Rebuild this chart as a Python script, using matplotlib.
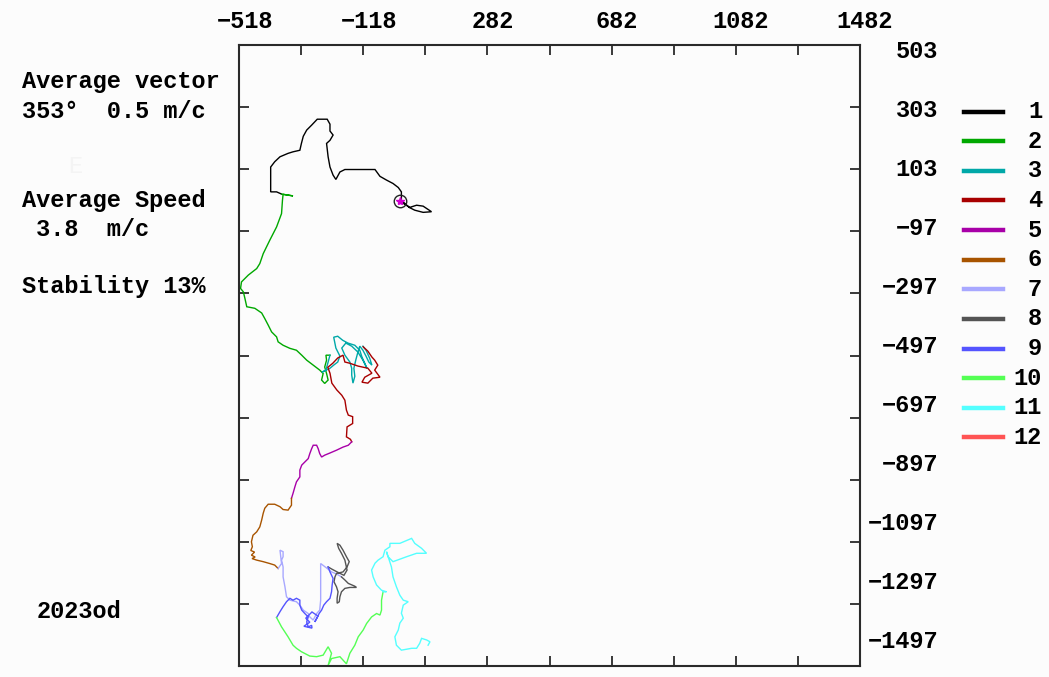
import matplotlib.pyplot as plt
from matplotlib.lines import Line2D

# ================= data (progressive vector, m) =================
T1_X = [0, 32, 54, 75, 102, 75, 48, 30, 5, 5, -5, -22, -43, -64, -80, -177, -193, -206, -215, -225,
        -231, -236, -225, -215, -225, -225, -234, -266, -284, -300, -311, -317, -322, -344, -360,
        -386, -403, -416, -416, -416, -397, -381]
T1_Y = [0, -20, -13, -16, -34, -36, -29, -20, 3, 30, 44, 57, 68, 80, 102, 102, 94, 70, 84, 110,
        143, 186, 196, 213, 226, 248, 264, 264, 245, 229, 209, 186, 164, 159, 154,
        143, 127, 110, 78, 30, 30, 23]

T2_X = [-381, -344, -376, -378, -381, -397, -419, -440, -451, -461, -488, -510, -513, -504, -499,
        -493, -467, -445, -435, -424, -413, -397, -392, -376, -354, -333, -316, -300, -279, -258,
        -247, -252, -242, -231, -236, -242, -236, -238, -225]
T2_Y = [23, 17, 22, 3, -40, -83, -126, -169, -201, -217, -238, -260, -281, -292, -313,
        -340, -345, -360, -378, -399, -421, -437, -453, -464, -474, -480, -496, -512, -528, -544,
        -555, -576, -587, -576, -555, -534, -512, -496, -496]

T3_X = [-225, -238, -251, -225, -213, -200, -193, -206, -213, -200, -184, -167, -145, -129, -122,
        -113, -106, -119, -135, -155, -174, -187, -177, -161, -155, -155, -151, -145, -148, -142,
        -135, -129, -119, -109, -100, -90, -97, -109, -119]
T3_Y = [-496, -544, -551, -538, -528, -518, -499, -473, -438, -435, -448, -457, -464, -480, -502,
        -522, -538, -512, -486, -467, -457, -473, -496, -518, -538, -560, -586, -564, -538, -512,
        -486, -467, -480, -499, -518, -528, -506, -480, -467]

T4_X = [-118, -103, -90, -81, -71, -81, -64, -87, -103, -122, -113, -90, -103, -135, -161, -177,
        -183, -200, -216, -232, -225, -219, -203, -187, -177, -172, -166, -152, -152, -170, -172,
        -159, -155]
T4_Y = [-469, -483, -502, -512, -528, -544, -567, -570, -586, -583, -567, -554, -538, -531, -522,
        -518, -496, -505, -522, -535, -554, -586, -608, -625, -641, -673, -689, -694, -716, -727,
        -759, -767, -775]

T5_X = [-155, -166, -183, -204, -225, -242, -252, -258, -263, -268, -279, -284, -290, -295, -306,
        -316, -322, -322, -333, -338, -344, -349]
T5_Y = [-775, -786, -792, -802, -811, -818, -824, -813, -797, -786, -786, -797, -813, -829, -840,
        -850, -866, -888, -904, -920, -941, -957]

T6_X = [-349, -349, -360, -376, -386, -403, -424, -435, -440, -445, -451, -461, -473, -478, -475,
        -480, -468, -478, -466, -476, -461, -440, -419, -403, -392]
T6_Y = [-957, -979, -995, -993, -984, -976, -976, -989, -1005, -1027, -1049, -1065, -1076, -1097,
        -1113, -1125, -1130, -1140, -1146, -1151, -1156, -1161, -1167, -1172, -1183]

T7_X = [-392, -381, -386, -376, -376, -381, -376, -376, -370, -365, -354, -333, -322, -311, -295,
        -290, -279, -268, -258, -255, -255, -235, -220, -203, -188]
T7_Y = [-1183, -1167, -1124, -1129, -1145, -1156, -1178, -1210, -1242, -1274, -1285, -1290, -1301,
        -1317, -1328, -1339, -1349, -1328, -1317, -1285, -1167, -1182, -1194, -1201, -1210]

T8_X = [-188, -177, -166, -145, -140, -161, -177, -188, -193, -195, -202, -202, -199, -204, -212,
        -209, -204, -183, -170, -163, -172, -183, -193, -202, -197, -188, -177, -170, -180, -200,
        -219, -231]
T8_Y = [-1210, -1220, -1231, -1240, -1244, -1244, -1247, -1258, -1274, -1290, -1295, -1279, -1258,
        -1242, -1226, -1210, -1199, -1194, -1178, -1161, -1145, -1124, -1108, -1102, -1118, -1134,
        -1156, -1188, -1205, -1195, -1185, -1178]

T9_X = [-231, -225, -215, -218, -220, -225, -236, -245, -252, -260, -266, -274, -264, -283, -303,
        -290, -309, -283, -284, -295, -300, -295, -306, -316, -322, -322, -333, -344, -354, -365,
        -376, -386, -397]
T9_Y = [-1178, -1194, -1215, -1236, -1258, -1279, -1290, -1301, -1317, -1328, -1341, -1355, -1336,
        -1323, -1343, -1356, -1369, -1375, -1366, -1371, -1355, -1339, -1328, -1317, -1301, -1285,
        -1279, -1285, -1279, -1290, -1306, -1322, -1341]

T10_X = [-397, -381, -360, -344, -333, -317, -290, -268, -247, -231, -220, -231, -220, -193, -172,
         -161, -145, -134, -118, -107, -91, -75, -64, -59, -59, -54]
T10_Y = [-1341, -1371, -1403, -1430, -1440, -1451, -1465, -1467, -1462, -1435, -1456, -1495, -1473,
         -1467, -1490, -1456, -1430, -1403, -1381, -1360, -1339, -1328, -1333, -1317, -1285, -1258]

T11_X = [-54, -43, -59, -75, -86, -91, -80, -70, -54, -48, -32, -32, 0, 38, 48, 70, 86, 54, 22,
         -22, -38, -43, -27, -22, -11, 0, 11, 27, 11, 5, 11, 0, -5, -16, -11, 5, 38, 54, 64, 70,
         86, 97, 91]
T11_Y = [-1258, -1258, -1253, -1236, -1210, -1188, -1166, -1156, -1145, -1124, -1113, -1102, -1102,
         -1086, -1102, -1118, -1134, -1134, -1145, -1161, -1145, -1129, -1178, -1210, -1242, -1269,
         -1285, -1290, -1301, -1327, -1343, -1359, -1381, -1403, -1430, -1446, -1440, -1440, -1424,
         -1408, -1413, -1419, -1430]

T12_X = []
T12_Y = []

LEGEND_LABELS = ['1', '2', '3', '4', '5', '6', '7', '8', '9', '10', '11', '12']
X_LABELS = ['\u2212518', '\u2212118', '282', '682', '1082', '1482']
Y_LABELS = ['503', '303', '103', '\u221297', '\u2212297', '\u2212497', '\u2212697', '\u2212897',
            '\u22121097', '\u22121297', '\u22121497']
INFO_LINES = ['Average vector', '353\u00b0  0.5 m/c', 'Average Speed', ' 3.8  m/c', 'Stability 13%']
STATION = '2023od'

# ================= style =================
COLORS = ['#000000', '#00a800', '#00a8a8', '#a80000', '#a800a8', '#a85400',
          '#a8a8ff', '#545454', '#5454ff', '#54ff54', '#54ffff', '#ff5454']
BG = '#fcfcfc'
FRAME = '#2a2a2a'
FONT = ['Liberation Mono', 'DejaVu Sans Mono']
FS = 17

W, H = 1049, 677
X_MIN, X_MAX = -518, 1482
Y_MIN, Y_MAX = -1497, 503


def fx(px):
    return px / W


def fy(py):
    return 1 - py / H


fig = plt.figure(figsize=(W / 100, H / 100), dpi=100, facecolor=BG)
ax = fig.add_axes([fx(239), fy(666), 621 / W, 621 / H])
ax.set_facecolor(BG)
ax.set_xlim(X_MIN, X_MAX)
ax.set_ylim(Y_MIN, Y_MAX)

tracks = [(T1_X, T1_Y), (T2_X, T2_Y), (T3_X, T3_Y), (T4_X, T4_Y), (T5_X, T5_Y), (T6_X, T6_Y),
          (T7_X, T7_Y), (T8_X, T8_Y), (T9_X, T9_Y), (T10_X, T10_Y), (T11_X, T11_Y), (T12_X, T12_Y)]
for (xs, ys), c in zip(tracks, COLORS):
    ax.plot(xs, ys, color=c, lw=1.0, solid_joinstyle='miter')

# start point
ax.plot(0, 0, 'o', ms=9, mfc='none', mec='#222222', mew=1.0)
ax.plot(0, 0, '*', color='#d000d0', ms=6)

# ================= frame / ticks =================
for s in ax.spines.values():
    s.set_color(FRAME)
    s.set_linewidth(1.5)
ax.set_xticks(range(X_MIN + 200, X_MAX, 200))
ax.set_yticks(range(Y_MIN + 200, Y_MAX, 200))
ax.tick_params(direction='in', length=7, width=1.3, color=FRAME,
               top=True, right=True, labelbottom=False, labelleft=False)

# axis labels sit a little off the tick marks, as in the original program
for i, lab in enumerate(X_LABELS):
    fig.text(fx(245 + 124 * i), fy(22), lab, ha='center', va='center',
             fontsize=FS, fontweight='bold', family=FONT)
for i, lab in enumerate(Y_LABELS):
    fig.text(fx(938), fy(51.7 + 59.03 * i), lab, ha='right', va='center',
             fontsize=FS, fontweight='bold', family=FONT)

# ================= legend =================
for i, (lab, c) in enumerate(zip(LEGEND_LABELS, COLORS)):
    y = fy(111.7 + 29.6 * i)
    fig.add_artist(Line2D([fx(964), fx(1003)], [y, y], color=c, lw=3.2,
                          transform=fig.transFigure))
    fig.text(fx(1042), y, lab, ha='right', va='center',
             fontsize=FS, fontweight='bold', family=FONT)

# ================= info text =================
for lab, py in zip(INFO_LINES, [81.7, 111.7, 200, 230, 286.7]):
    fig.text(fx(22), fy(py), lab, ha='left', va='center',
             fontsize=FS, fontweight='bold', family=FONT)
fig.text(fx(75), fy(167), 'E', ha='center', va='center', fontsize=FS, color='#f4f4f4', family=FONT)
fig.text(fx(37), fy(612), STATION, ha='left', va='center',
         fontsize=FS, fontweight='bold', family=FONT)

fig.savefig('out.png', dpi=100, facecolor=BG)
